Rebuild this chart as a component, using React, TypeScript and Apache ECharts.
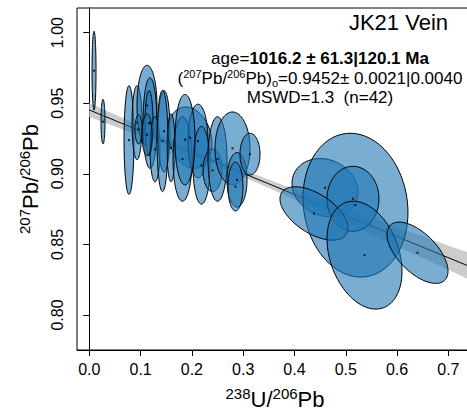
import React, { useEffect, useRef } from "react";
import * as echarts from "echarts";

// Axis ticks
const xTicks = [0.0, 0.1, 0.2, 0.3, 0.4, 0.5, 0.6, 0.7];
const yTicks = [0.8, 0.85, 0.9, 0.95, 1.0];

// Error ellipses: centre (x, y), half-extent in x and y, correlation
const ellX = [0.0092, 0.0267, 0.0774, 0.093, 0.1125, 0.1183, 0.1164, 0.1281, 0.1456, 0.1963, 0.1593, 0.1817, 0.2119, 0.2187, 0.2402, 0.2499, 0.2791, 0.2879, 0.285, 0.3133, 0.0959, 0.1125, 0.1427, 0.1865, 0.4595, 0.5189, 0.514, 0.438, 0.5365, 0.6398];
const ellY = [0.973, 0.9369, 0.9239, 0.9362, 0.9483, 0.9359, 0.9359, 0.9173, 0.9301, 0.9256, 0.9184, 0.9105, 0.9232, 0.906, 0.9025, 0.9105, 0.918, 0.8957, 0.8909, 0.9139, 0.9314, 0.9276, 0.9232, 0.9242, 0.8902, 0.8778, 0.8823, 0.8719, 0.8424, 0.8441];
const ellSX = [0.0039, 0.0039, 0.0097, 0.0097, 0.0195, 0.0136, 0.0078, 0.0097, 0.0117, 0.0429, 0.0078, 0.0185, 0.0195, 0.0166, 0.0185, 0.0185, 0.0341, 0.0195, 0.0146, 0.0195, 0.0068, 0.0097, 0.0107, 0.0195, 0.0643, 0.1023, 0.0507, 0.0663, 0.0731, 0.0595];
const ellSY = [0.0279, 0.0158, 0.0385, 0.0262, 0.0285, 0.032, 0.023, 0.023, 0.0289, 0.0217, 0.0241, 0.0299, 0.0261, 0.0275, 0.0151, 0.0299, 0.0258, 0.0193, 0.0172, 0.0148, 0.0103, 0.0148, 0.0358, 0.032, 0.0206, 0.0509, 0.023, 0.0189, 0.0382, 0.0217];
const ellRho = [0, 0, 0, 0, 0, 0, 0, 0, 0, -0.2, 0, 0, 0, 0, 0, 0, 0, 0, 0, 0, 0, 0, 0, 0, -0.15, -0.1, 0, -0.55, -0.3, -0.6];

// Isochron line and its confidence band
const lineX = [0, 0.76];
const lineY = [0.9452, 0.8316];
const bandX = [0, 0.1, 0.2, 0.3, 0.4, 0.5, 0.6, 0.7, 0.76];
const bandLo = [0.9402, 0.9268, 0.9128, 0.8979, 0.8819, 0.8655, 0.8487, 0.8321, 0.8216];
const bandHi = [0.9502, 0.9338, 0.9178, 0.9029, 0.8889, 0.8755, 0.8623, 0.8491, 0.8416];

const FONT = "Liberation Sans, Arial, Helvetica, sans-serif";

export default function App() {
  const ref = useRef<HTMLDivElement>(null);
  useEffect(() => {
    if (!ref.current) return;
    const chart = echarts.init(ref.current, undefined, { renderer: "svg" });
    const ellData = ellX.map((x, i) => [x, ellY[i], ellSX[i], ellSY[i], ellRho[i]]);
    const option: any = {
      animation: false,
      backgroundColor: "#fff",
      textStyle: { fontFamily: FONT },
      grid: {
        left: 77,
        top: 8,
        right: 7,
        bottom: 55,
        show: true,
        borderColor: "#000",
        borderWidth: 1,
        backgroundColor: "transparent",
      },
      xAxis: {
        type: "value",
        min: -0.024,
        max: 0.748,
        splitLine: { show: false },
        axisLine: { show: true, lineStyle: { color: "#000", width: 1 } },
        axisTick: { show: true, length: 6, customValues: xTicks, lineStyle: { color: "#000" } },
        axisLabel: {
          customValues: xTicks,
          formatter: (v: number) => v.toFixed(1),
          fontSize: 16,
          color: "#000",
          margin: 11,
          fontFamily: FONT,
        },
        name: "{s|238}{n|U/}{s|206}{n|Pb}",
        nameLocation: "middle",
        nameGap: 36,
        nameTextStyle: {
          fontFamily: FONT,
          color: "#000",
          rich: {
            n: { fontSize: 22, lineHeight: 26, fontFamily: FONT, color: "#000" },
            s: { fontSize: 15, lineHeight: 14, verticalAlign: "top", fontFamily: FONT, color: "#000" },
          },
        },
      },
      yAxis: {
        type: "value",
        min: 0.77524,
        max: 1.0174,
        splitLine: { show: false },
        axisLine: { show: true, lineStyle: { color: "#000", width: 1 } },
        axisTick: { show: true, length: 6, customValues: yTicks, lineStyle: { color: "#000" } },
        axisLabel: {
          customValues: yTicks,
          formatter: (v: number) => v.toFixed(2),
          fontSize: 16,
          rotate: 90,
          color: "#000",
          margin: 12,
          fontFamily: FONT,
        },
        name: "{s|207}{n|Pb/}{s|206}{n|Pb}",
        nameLocation: "middle",
        nameRotate: 90,
        nameGap: 34,
        nameTextStyle: {
          fontFamily: FONT,
          color: "#000",
          rich: {
            n: { fontSize: 22, lineHeight: 26, fontFamily: FONT, color: "#000" },
            s: { fontSize: 15, lineHeight: 14, verticalAlign: "top", fontFamily: FONT, color: "#000" },
          },
        },
      },
      graphic: [
        {
          type: "text",
          right: 32,
          top: 11,
          style: { text: "JK21 Vein", fontSize: 22, fontFamily: FONT, fill: "#000" },
        },
        {
          type: "text",
          x: 320,
          y: 50,
          style: {
            text: "{n|age=}{b|1016.2 ± 61.3|120.1 Ma}",
            align: "center",
            rich: {
              n: { fontSize: 17, fontFamily: FONT, fill: "#000" },
              b: { fontSize: 17, fontFamily: FONT, fontWeight: "bold", fill: "#000" },
            },
          },
        },
        {
          type: "text",
          x: 320,
          y: 68,
          style: {
            text: "{n|(}{s|207}{n|Pb/}{s|206}{n|Pb)}{o|o}{n|=0.9452± 0.0021|0.0040}",
            align: "center",
            rich: {
              n: { fontSize: 17, lineHeight: 20, fontFamily: FONT, fill: "#000" },
              s: { fontSize: 11, lineHeight: 12, verticalAlign: "top", fontFamily: FONT, fill: "#000" },
              o: { fontSize: 11, lineHeight: 8, verticalAlign: "bottom", fontFamily: FONT, fill: "#000" },
            },
          },
        },
        {
          type: "text",
          x: 320,
          y: 89,
          style: {
            text: "MSWD=1.3  (n=42)",
            align: "center",
            fontSize: 17,
            fontFamily: FONT,
            fill: "#000",
          },
        },
      ],
      series: [
        {
          type: "custom",
          silent: true,
          clip: true,
          data: [[bandX[0], bandLo[0]]],
          encode: { x: 0, y: 1 },
          renderItem: (_p: any, api: any) => {
            const pts: number[][] = [];
            for (let i = 0; i < bandX.length; i++) pts.push(api.coord([bandX[i], bandHi[i]]));
            for (let i = bandX.length - 1; i >= 0; i--) pts.push(api.coord([bandX[i], bandLo[i]]));
            return { type: "polygon", shape: { points: pts }, style: { fill: "#cccccc", stroke: "none" } };
          },
          z: 1,
        },
        {
          type: "line",
          data: lineX.map((x, i) => [x, lineY[i]]),
          symbol: "none",
          lineStyle: { color: "#000", width: 1 },
          silent: true,
          z: 2,
        },
        {
          type: "custom",
          silent: true,
          clip: true,
          data: ellData,
          encode: { x: 0, y: 1 },
          renderItem: (_p: any, api: any) => {
            const cx = api.value(0);
            const cy = api.value(1);
            const sx = api.value(2);
            const sy = api.value(3);
            const r = api.value(4);
            const q = Math.sqrt(1 - r * r);
            const pts: number[][] = [];
            const N = 90;
            for (let k = 0; k < N; k++) {
              const t = (k / N) * Math.PI * 2;
              pts.push(api.coord([cx + sx * Math.cos(t), cy + sy * (r * Math.cos(t) + q * Math.sin(t))]));
            }
            return {
              type: "polygon",
              shape: { points: pts },
              style: { fill: "rgba(31,119,180,0.6)", stroke: "#000", lineWidth: 1 },
            };
          },
          z: 3,
        },
        {
          type: "scatter",
          data: ellX.map((x, i) => [x, ellY[i]]),
          symbol: "rect",
          symbolSize: 2,
          itemStyle: { color: "#000" },
          silent: true,
          z: 4,
        },
      ],
    };
    chart.setOption(option);
    return () => chart.dispose();
  }, []);
  return (
    <div style={{ position: "fixed", left: 0, top: 0, width: 467, height: 415, overflow: "hidden", background: "#fff" }}>
      <div ref={ref} style={{ width: 480, height: 415 }} />
    </div>
  );
}
